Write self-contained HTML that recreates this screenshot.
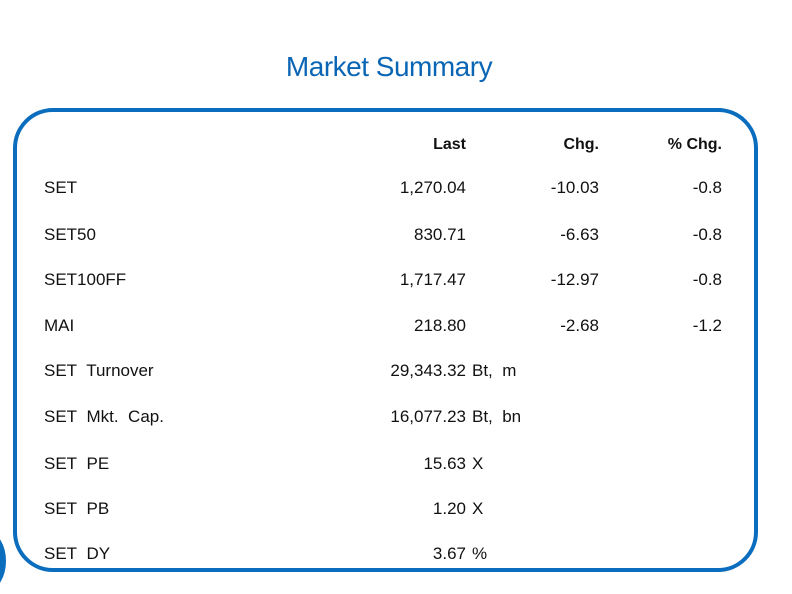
<!DOCTYPE html>
<html><head><meta charset="utf-8"><style>
body{margin:0;width:792px;height:594px;background:#fff;position:relative;overflow:hidden;font-family:"Liberation Sans",sans-serif;}
.t{position:absolute;white-space:nowrap;font-size:17px;color:#111;line-height:20px;}
.r{text-align:right;}
.h{font-weight:bold;font-size:16px;}
#title{position:absolute;left:0;width:778px;text-align:center;top:51px;font-size:28px;color:#0a66b4;letter-spacing:-0.5px;}
#box{position:absolute;left:13px;top:108px;width:737px;height:456px;border:4px solid #0a6dbd;border-radius:40px;}
#circ{position:absolute;left:-30px;top:532px;width:36px;height:58px;border-radius:50%;background:#0a6dbd;}
</style></head><body>
<div id="title">Market Summary</div>
<div id="box"></div>
<div id="circ"></div>
<div class="t h r" style="left:366px;width:100px;top:135px">Last</div>
<div class="t h r" style="left:499px;width:100px;top:135px">Chg.</div>
<div class="t h r" style="left:622px;width:100px;top:135px">% Chg.</div>

<div class="t" style="left:44px;top:178px">SET</div>
<div class="t r" style="left:316px;width:150px;top:178px">1,270.04</div>
<div class="t r" style="left:499px;width:100px;top:178px">-10.03</div>
<div class="t r" style="left:622px;width:100px;top:178px">-0.8</div>

<div class="t" style="left:44px;top:225px">SET50</div>
<div class="t r" style="left:316px;width:150px;top:225px">830.71</div>
<div class="t r" style="left:499px;width:100px;top:225px">-6.63</div>
<div class="t r" style="left:622px;width:100px;top:225px">-0.8</div>

<div class="t" style="left:44px;top:270px">SET100FF</div>
<div class="t r" style="left:316px;width:150px;top:270px">1,717.47</div>
<div class="t r" style="left:499px;width:100px;top:270px">-12.97</div>
<div class="t r" style="left:622px;width:100px;top:270px">-0.8</div>

<div class="t" style="left:44px;top:316px">MAI</div>
<div class="t r" style="left:316px;width:150px;top:316px">218.80</div>
<div class="t r" style="left:499px;width:100px;top:316px">-2.68</div>
<div class="t r" style="left:622px;width:100px;top:316px">-1.2</div>

<div class="t" style="left:44px;top:361px">SET&nbsp; Turnover</div>
<div class="t r" style="left:316px;width:150px;top:361px">29,343.32</div>
<div class="t" style="left:472px;top:361px">Bt,&nbsp; m</div>

<div class="t" style="left:44px;top:407px">SET&nbsp; Mkt.&nbsp; Cap.</div>
<div class="t r" style="left:316px;width:150px;top:407px">16,077.23</div>
<div class="t" style="left:472px;top:407px">Bt,&nbsp; bn</div>

<div class="t" style="left:44px;top:454px">SET&nbsp; PE</div>
<div class="t r" style="left:316px;width:150px;top:454px">15.63</div>
<div class="t" style="left:472px;top:454px">X</div>

<div class="t" style="left:44px;top:499px">SET&nbsp; PB</div>
<div class="t r" style="left:316px;width:150px;top:499px">1.20</div>
<div class="t" style="left:472px;top:499px">X</div>

<div class="t" style="left:44px;top:544px">SET&nbsp; DY</div>
<div class="t r" style="left:316px;width:150px;top:544px">3.67</div>
<div class="t" style="left:472px;top:544px">%</div>
</body></html>
